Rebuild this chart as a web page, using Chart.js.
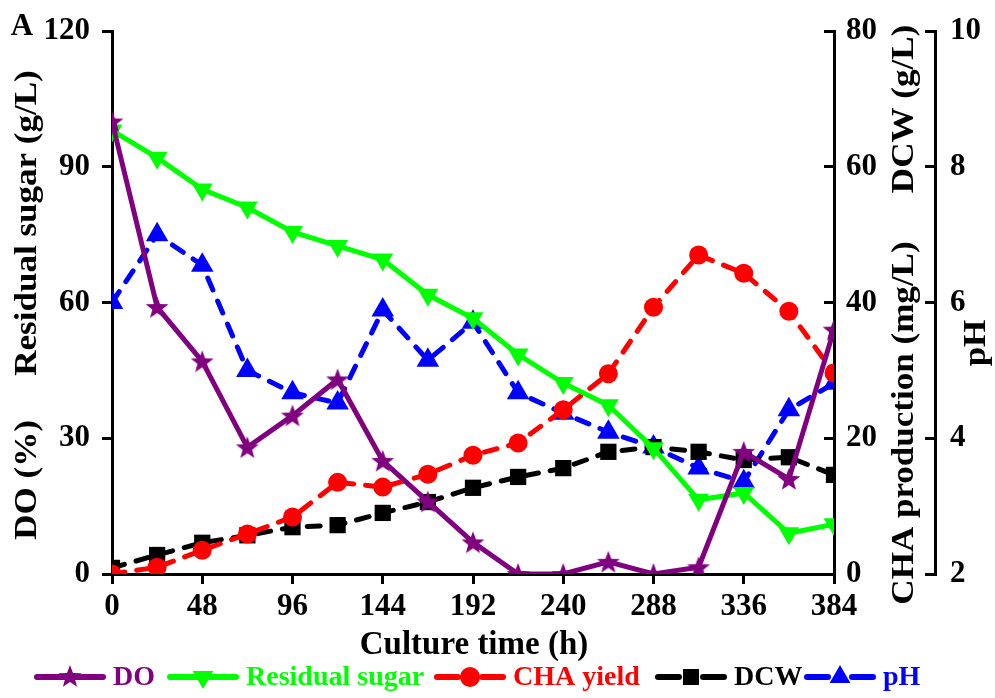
<!DOCTYPE html>
<html><head><meta charset="utf-8">
<script src="https://cdn.jsdelivr.net/npm/chart.js@4.4.1/dist/chart.umd.min.js"></script>
<style>html,body{margin:0;padding:0;background:#fff;}#wrap{width:995px;height:698px;}</style>
</head><body><div id="wrap"><canvas id="c" width="995" height="698"></canvas></div>
<script>
// ---- data ----
const timeH = [0,24,48,72,96,120,144,168,192,216,240,264,288,312,336,360,384];
const doPct = [100,59,47,28,35,43,25,16,7,0,0,2.7,0,1.5,27,21,54];
const residualSugar = [98,92,85,81,75.6,72.5,69.5,61.7,56.5,48.5,42.2,37.3,27.8,16.4,17.9,9,11];
const chaYield = [0,1,3.5,5.9,8.4,13.5,12.8,14.7,17.5,19.3,24.2,29.5,39.3,47,44.3,38.7,29.6];
const dcw = [0.9,2.8,4.6,5.7,6.9,7.2,9.0,10.6,12.7,14.3,15.6,18.0,18.7,18.0,16.8,17.2,14.6];
const phVal = [6.0,7.0,6.55,5.0,4.67,4.52,5.89,5.15,5.71,4.67,4.37,4.09,3.87,3.56,3.36,4.42,4.81];
const seriesNames = ['DO','Residual sugar','CHA yield','DCW','pH'];
const leftTicks = [0,30,60,90,120];
const chaTicks = [0,20,40,60,80];
const phTicks = [2,4,6,8,10];
const timeTicks = [0,48,96,144,192,240,288,336,384];

const PURPLE='#800080', GREEN='#00FF00', RED='#FF0000', BLACK='#000000', BLUE='#0000FF';
const FONT='"Liberation Serif","Times New Roman",serif';

function makeStar(color, R){
  const c=document.createElement('canvas'); const s=Math.ceil(2*R+2);
  c.width=s; c.height=s; const g=c.getContext('2d');
  g.fillStyle=color; g.beginPath();
  for(let i=0;i<10;i++){
    const r = i%2===0 ? R : R*0.42;
    const a = -Math.PI/2 + i*Math.PI/5;
    const x=s/2+r*Math.cos(a), y=s/2+r*Math.sin(a)+1;
    if(i===0) g.moveTo(x,y); else g.lineTo(x,y);
  }
  g.closePath(); g.fill(); return c;
}
const starImg = makeStar(PURPLE, 12);

const pts = arr => timeH.map((t,i)=>({x:t,y:arr[i]}));

const datasets = [
  {label:seriesNames[0], data:pts(doPct), yAxisID:'y', borderColor:PURPLE, backgroundColor:PURPLE,
   borderWidth:5, pointStyle:starImg, pointRadius:12, dash:false},
  {label:seriesNames[1], data:pts(residualSugar), yAxisID:'y', borderColor:GREEN, backgroundColor:GREEN,
   borderWidth:5, pointStyle:'triangle', pointRotation:180, pointRadius:12, dash:false},
  {label:seriesNames[2], data:pts(chaYield), yAxisID:'y1', borderColor:RED, backgroundColor:RED,
   borderWidth:5, borderDash:[13,12], pointStyle:'circle', pointRadius:9.5, dash:true},
  {label:seriesNames[3], data:pts(dcw), yAxisID:'y1', borderColor:BLACK, backgroundColor:BLACK,
   borderWidth:5, borderDash:[13,12], pointStyle:'rect', pointRadius:11.5, dash:true},
  {label:seriesNames[4], data:pts(phVal), yAxisID:'y2', borderColor:BLUE, backgroundColor:BLUE,
   borderWidth:5, borderDash:[13,12], pointStyle:'triangle', pointRadius:13, dash:true}
];
datasets.forEach(d=>{ d.borderCapStyle='round'; d.pointBorderWidth=0; d.pointBorderColor=d.borderColor; d.tension=0; d.fill=false; });

const tickFont = {family:FONT, size:31, weight:'bold'};
function axisBase(extra){
  return Object.assign({
    grid:{drawOnChartArea:false, tickLength:10, tickWidth:3, tickColor:'#000'},
    border:{display:true, color:'#000', width:3},
  }, extra);
}
function fitY(w){ return function(s){ s.width=w; s.paddingTop=0; s.paddingBottom=0; }; }

function drawRot(ctx, text, x, y, size, stretch){
  ctx.save(); ctx.translate(x,y); ctx.rotate(-Math.PI/2); ctx.scale(stretch,1);
  ctx.font='bold '+size+'px '+FONT; ctx.textAlign='center'; ctx.textBaseline='middle';
  ctx.fillStyle='#000'; ctx.fillText(text,0,0); ctx.restore();
}

const decor = {
  id:'decor',
  afterDraw(chart){
    const ctx=chart.ctx;
    ctx.save();
    ctx.fillStyle='#000'; ctx.textAlign='center'; ctx.textBaseline='middle';
    ctx.font='bold 31px '+FONT; ctx.fillText('A',22,27);
    ctx.font='bold 33px '+FONT; ctx.fillText('Culture time (h)',474,645);
    drawRot(ctx,'Residual sugar (g/L)',28,223,31,1.13);
    drawRot(ctx,'DO (%)',28,480,31,1.13);
    drawRot(ctx,'DCW (g/L)',905,109,31,1.13);
    drawRot(ctx,'CHA production (mg/L)',905,423,31,1.13);
    drawRot(ctx,'pH',977,343,31,1.13);
    // legend
    const lx=[34,167,434,655,804]; const ly=677;
    chart.data.datasets.forEach((d,i)=>{
      const x0=lx[i];
      ctx.strokeStyle=d.borderColor; ctx.lineWidth=6; ctx.lineCap='round'; ctx.setLineDash([]);
      ctx.beginPath();
      if(d.dash){ ctx.moveTo(x0+3,ly); ctx.lineTo(x0+24,ly); ctx.moveTo(x0+48,ly); ctx.lineTo(x0+69,ly); }
      else { ctx.moveTo(x0+3,ly); ctx.lineTo(x0+69,ly); }
      ctx.stroke();
      const cx=x0+36;
      ctx.fillStyle=d.borderColor;
      if(d.pointStyle===starImg){ ctx.drawImage(starImg,cx-starImg.width/2,ly-starImg.height/2-1); }
      else if(d.pointStyle==='circle'){ ctx.beginPath(); ctx.arc(cx,ly,10,0,Math.PI*2); ctx.fill(); }
      else if(d.pointStyle==='rect'){ ctx.fillRect(cx-8,ly-8,16,16); }
      else if(d.pointStyle==='triangle'){
        const r=12, up = !d.pointRotation;
        ctx.beginPath();
        if(up){ ctx.moveTo(cx,ly-r); ctx.lineTo(cx+r*0.866,ly+r*0.5); ctx.lineTo(cx-r*0.866,ly+r*0.5); }
        else { ctx.moveTo(cx,ly+r); ctx.lineTo(cx+r*0.866,ly-r*0.5); ctx.lineTo(cx-r*0.866,ly-r*0.5); }
        ctx.closePath(); ctx.fill();
      }
      ctx.font='bold 28px '+FONT; ctx.textAlign='left'; ctx.textBaseline='middle';
      ctx.fillText(d.label, x0+79, ly+1);
    });
    ctx.restore();
  }
};

new Chart(document.getElementById('c'), {
  type:'line',
  data:{datasets},
  options:{
    responsive:false, animation:false, devicePixelRatio:1,
    layout:{padding:{top:31,left:0,right:0,bottom:0}},
    plugins:{legend:{display:false}, tooltip:{enabled:false}},
    scales:{
      x: axisBase({type:'linear', min:timeTicks[0], max:timeTicks[timeTicks.length-1],
        afterBuildTicks(s){ s.ticks=timeTicks.map(v=>({value:v})); },
        ticks:{font:tickFont, color:'#000', padding:4, maxRotation:0, autoSkip:false},
        afterFit(s){ s.height=124; }}),
      y: axisBase({position:'left', min:0, max:120,
        afterBuildTicks(s){ s.ticks=leftTicks.map(v=>({value:v})); },
        ticks:{font:tickFont, color:'#000', padding:12},
        afterFit: fitY(112)}),
      y1: axisBase({position:'right', weight:0, min:0, max:80,
        afterBuildTicks(s){ s.ticks=chaTicks.map(v=>({value:v})); },
        grid:{drawOnChartArea:false, tickLength:-10, tickWidth:3, tickColor:'#000'},
        ticks:{font:tickFont, color:'#000', padding:22},
        afterFit: fitY(101)}),
      y2: axisBase({position:'right', weight:1, min:2, max:10,
        afterBuildTicks(s){ s.ticks=phTicks.map(v=>({value:v})); },
        grid:{drawOnChartArea:false, tickLength:-10, tickWidth:3, tickColor:'#000'},
        ticks:{font:tickFont, color:'#000', padding:25},
        afterFit: fitY(60)})
    }
  },
  plugins:[decor]
});
</script></body></html>
